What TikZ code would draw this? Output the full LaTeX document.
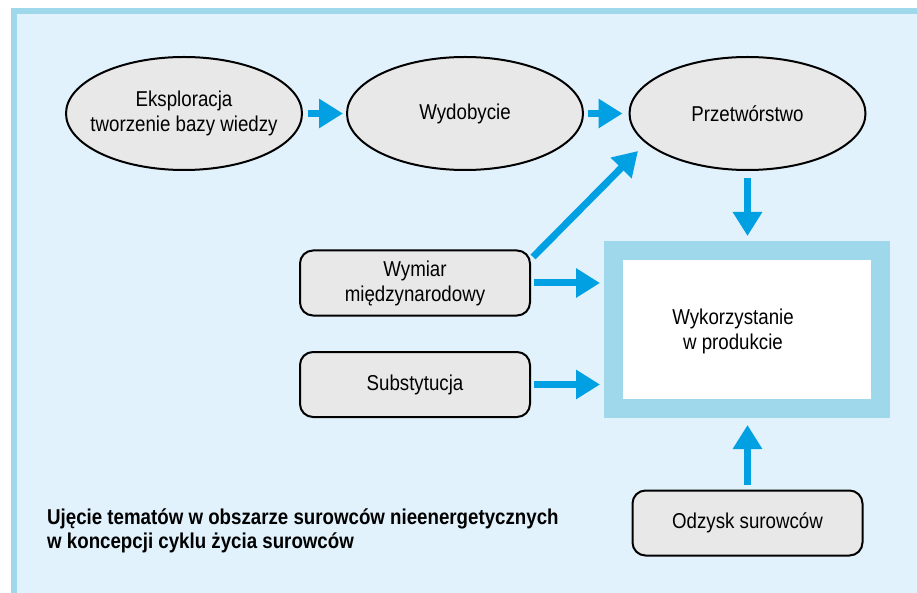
\documentclass[tikz,border=0pt]{standalone}
\usepackage{fontspec}
\setmainfont{Liberation Sans}[FakeStretch=0.87]
\usetikzlibrary{shapes.geometric,arrows.meta}
\definecolor{bgblue}{HTML}{E1F2FC}
\definecolor{frameblue}{HTML}{9FD7EB}
\definecolor{arrblue}{HTML}{00A0E3}
\definecolor{nodegray}{HTML}{E8E8E8}
\tikzset{
  ell/.style={ellipse, draw=black, line width=2pt, fill=nodegray, minimum width=236pt, minimum height=113pt, inner xsep=-15pt, inner ysep=0pt, align=center, font=\fontsize{21.5}{25}\selectfont},
  rbox/.style={rectangle, rounded corners=13pt, draw=black, line width=2pt, fill=nodegray, minimum width=230pt, minimum height=65pt, inner sep=0pt, align=center, font=\fontsize{21.5}{25}\selectfont},
  bigbox/.style={rectangle, draw=frameblue, fill=white, line width=19pt, minimum width=267pt, minimum height=158pt, inner sep=0pt},
  arr/.style={draw=arrblue, line width=7pt, -{Triangle[length=24pt,width=28pt]}},
  plain/.style={inner sep=0pt, align=center, font=\fontsize{21.5}{25}\selectfont}
}
\begin{document}
\begin{tikzpicture}[x=1pt,y=-1pt]
\useasboundingbox (0,0) rectangle (917,593);
\begin{scope}
\clip (0,0) rectangle (917,593);
\draw[frameblue, line width=6pt, fill=bgblue] (14,11) rectangle (940,620);
\end{scope}
\node[ell] (e1) at (184,113.5) {Eksploracja\\tworzenie bazy wiedzy};
\node[ell] (e2) at (465,113.5) {Wydobycie};
\node[ell] (e3) at (747.5,113.5) {Przetwórstwo};
\node[rbox] (w) at (415,283) {Wymiar\\międzynarodowy};
\node[rbox] (s) at (415,384.5) {Substytucja};
\node[rbox] (od) at (747.5,523) {Odzysk surowców};
\node[bigbox] (box) at (747,329.5) {};
\node[plain] (boxtext) at (733,331) {Wykorzystanie\\w produkcie};
\node[inner sep=0pt, align=left, anchor=west, font=\bfseries\fontsize{21.5}{24}\selectfont] (title) at (47,531) {Ujęcie tematów w obszarze surowców nieenergetycznych\\w koncepcji cyklu życia surowców};
\coordinate (dstart) at (533,257);
\coordinate (dend) at (638,151);
\draw[arr, shorten <=5pt, shorten >=3pt] (e1.east) -- (e2.west);
\draw[arr, shorten <=4pt, shorten >=6pt] (e2.east) -- (e3.west);
\draw[arr, shorten <=7pt, shorten >=5pt] (e3.south) -- (e3.south |- box.north);
\draw[arr] (dstart) -- (dend);
\draw[arr, shorten <=3pt, shorten >=4pt] (w.east) -- (w.east -| box.west);
\draw[arr, shorten <=3pt, shorten >=4pt] (s.east) -- (s.east -| box.west);
\draw[arr, shorten <=5pt, shorten >=7pt] (od.north) -- (od.north |- box.south);
\end{tikzpicture}
\end{document}
